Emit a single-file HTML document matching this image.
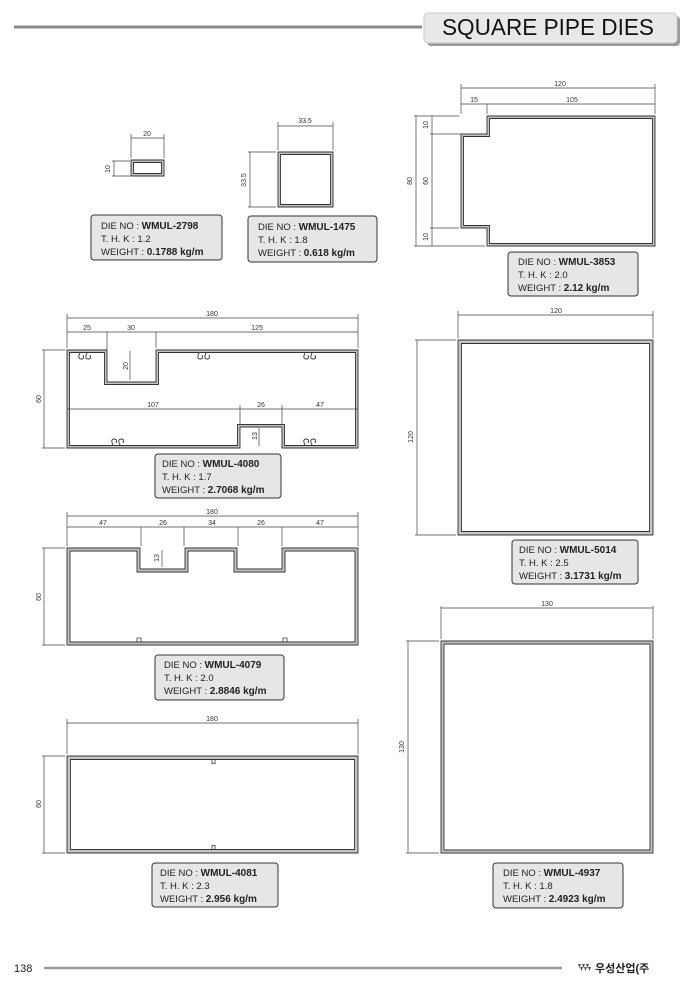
<!DOCTYPE html>
<html><head><meta charset="utf-8"><style>
html,body{margin:0;padding:0;background:#fff;}
svg{display:block;font-family:"Liberation Sans","Noto Sans CJK KR",sans-serif;}
.d{stroke:#444;stroke-width:0.7;fill:none}
.t{font-size:7px;fill:#333}
.p{fill:#c4c4c4;stroke:#333;stroke-width:0.9;fill-rule:evenodd}
.b{fill:#e6e6e6;stroke:#333;stroke-width:1}
.l{font-size:9.5px;fill:#222}
.l tspan.k{font-weight:bold;font-size:10px}
</style></head><body>
<svg width="690" height="986" viewBox="0 0 690 986" xmlns="http://www.w3.org/2000/svg">
<!-- header -->
<line x1="14" y1="27" x2="422" y2="27" stroke="#8a8a8a" stroke-width="3"/>
<rect x="427" y="16" width="253" height="30" rx="4" fill="#9a9a9a"/>
<rect x="424" y="13" width="253" height="30" rx="4" fill="#e8e8e8" stroke="#ccc"/>
<text x="548" y="35" font-size="23" text-anchor="middle" fill="#111" textLength="212" lengthAdjust="spacingAndGlyphs">SQUARE PIPE DIES</text>

<!-- 2798 -->
<path class="p" d="M131 160H164V176H131Z M133.5 162.5H161.5V173.5H133.5Z"/>
<path class="d" d="M131 158V134M164 158V134M131 138H164M130 161H112M130 176H112M114 161V176"/>
<text class="t" x="147" y="136" text-anchor="middle">20</text>
<text class="t" transform="translate(110,169) rotate(-90)" text-anchor="middle">10</text>
<rect class="b" x="91" y="215" width="131" height="45" rx="3"/>
<text class="l" x="101" y="229">DIE NO : <tspan class="k">WMUL-2798</tspan></text>
<text class="l" x="101" y="242">T. H. K :  1.2</text>
<text class="l" x="101" y="255">WEIGHT : <tspan class="k">0.1788 kg/m</tspan></text>

<!-- 1475 -->
<path class="p" d="M278 152H333V207H278Z M280.5 154.5H330.5V204.5H280.5Z"/>
<path class="d" d="M278 150V122M333 150V122M278 126H333M276 152H248M276 207H248M250 152V207"/>
<text class="t" x="305" y="123" text-anchor="middle">33.5</text>
<text class="t" transform="translate(246,180) rotate(-90)" text-anchor="middle">33.5</text>
<rect class="b" x="248" y="216" width="129" height="46" rx="3"/>
<text class="l" x="258" y="230">DIE NO : <tspan class="k">WMUL-1475</tspan></text>
<text class="l" x="258" y="243">T. H. K :  1.8</text>
<text class="l" x="258" y="256">WEIGHT : <tspan class="k">0.618 kg/m</tspan></text>

<!-- 3853 -->
<path class="p" d="M487 116H655V246H487V228H461V134H487Z M489.5 118.5H652.5V243.5H489.5V225.5H463.5V136.5H489.5Z"/>
<path class="d" d="M461 114V84M655 114V84M461 88H655M461 104H655M487 104V114M459 116H414M485 134H430M459 228H430M485 246H414M416 116V246M432 116V246"/>
<text class="t" x="560" y="86" text-anchor="middle">120</text>
<text class="t" x="474" y="102" text-anchor="middle">15</text>
<text class="t" x="572" y="102" text-anchor="middle">105</text>
<text class="t" transform="translate(412,181) rotate(-90)" text-anchor="middle">80</text>
<text class="t" transform="translate(428,125) rotate(-90)" text-anchor="middle">10</text>
<text class="t" transform="translate(428,181) rotate(-90)" text-anchor="middle">60</text>
<text class="t" transform="translate(428,237) rotate(-90)" text-anchor="middle">10</text>
<rect class="b" x="508" y="252" width="130" height="44" rx="3"/>
<text class="l" x="518" y="265">DIE NO : <tspan class="k">WMUL-3853</tspan></text>
<text class="l" x="518" y="278">T. H. K :  2.0</text>
<text class="l" x="518" y="291">WEIGHT : <tspan class="k">2.12 kg/m</tspan></text>

<!-- 4080 -->
<path class="p" d="M67 350H107V382H156V350H358V448H282V427H240V448H67Z M69.5 352.5H104.5V384.5H158.5V352.5H355.5V445.5H284.5V424.5H237.5V445.5H69.5Z"/>
<path class="d" d="M67 348V314M358 348V314M67 318H358M67 332H358M107 332V380M156 332V348M130 351V380M67 409H358M240 405V425M282 405V425M259 428V446M65 350H42M65 448H42M44 350V448"/>
<g stroke="#333" stroke-width="0.9" fill="none">
<path d="M80 353q-3 6 1.5 6q3 0 1.5-4M87 353q-3 6 1.5 6q3 0 1.5-4"/>
<path d="M199 353q-3 6 1.5 6q3 0 1.5-4M206 353q-3 6 1.5 6q3 0 1.5-4"/>
<path d="M305 353q-3 6 1.5 6q3 0 1.5-4M312 353q-3 6 1.5 6q3 0 1.5-4"/>
<path d="M113 445q-3 -6 1.5 -6q3 0 1.5 4M120 445q-3 -6 1.5 -6q3 0 1.5 4"/>
<path d="M305 445q-3 -6 1.5 -6q3 0 1.5 4M312 445q-3 -6 1.5 -6q3 0 1.5 4"/>
</g>
<text class="t" x="212" y="316" text-anchor="middle">180</text>
<text class="t" x="87" y="330" text-anchor="middle">25</text>
<text class="t" x="131" y="330" text-anchor="middle">30</text>
<text class="t" x="257" y="330" text-anchor="middle">125</text>
<text class="t" x="153" y="407" text-anchor="middle">107</text>
<text class="t" x="261" y="407" text-anchor="middle">26</text>
<text class="t" x="320" y="407" text-anchor="middle">47</text>
<text class="t" transform="translate(128,366) rotate(-90)" text-anchor="middle">20</text>
<text class="t" transform="translate(257,436) rotate(-90)" text-anchor="middle">13</text>
<text class="t" transform="translate(41,399) rotate(-90)" text-anchor="middle">60</text>
<rect class="b" x="155" y="454" width="126" height="44" rx="3"/>
<text class="l" x="162" y="467">DIE NO : <tspan class="k">WMUL-4080</tspan></text>
<text class="l" x="162" y="480">T. H. K :  1.7</text>
<text class="l" x="162" y="493">WEIGHT : <tspan class="k">2.7068 kg/m</tspan></text>

<!-- 4079 -->
<path class="p" d="M67 548H140V569H185V548H237V569H282V548H358V645H67Z M70 551H137V572H188V551H234V572H285V551H355V642H70Z"/>
<path class="d" d="M67 546V512M358 546V512M67 516H358M67 527H358M141 527V546M184 527V546M238 527V546M282 527V546M162 550V567M65 548H42M65 645H42M44 548V645"/>
<path d="M137 642V638h4v4M283 642V638h4v4" stroke="#333" stroke-width="0.8" fill="none"/>
<text class="t" x="212" y="514" text-anchor="middle">180</text>
<text class="t" x="103" y="525" text-anchor="middle">47</text>
<text class="t" x="163" y="525" text-anchor="middle">26</text>
<text class="t" x="212" y="525" text-anchor="middle">34</text>
<text class="t" x="261" y="525" text-anchor="middle">26</text>
<text class="t" x="320" y="525" text-anchor="middle">47</text>
<text class="t" transform="translate(159,558) rotate(-90)" text-anchor="middle">13</text>
<text class="t" transform="translate(41,597) rotate(-90)" text-anchor="middle">60</text>
<rect class="b" x="155" y="655" width="129" height="45" rx="3"/>
<text class="l" x="164" y="668">DIE NO : <tspan class="k">WMUL-4079</tspan></text>
<text class="l" x="164" y="681">T. H. K :  2.0</text>
<text class="l" x="164" y="694">WEIGHT : <tspan class="k">2.8846 kg/m</tspan></text>

<!-- 4081 -->
<path class="p" d="M67 756H358V853H67Z M70.5 759.5H354.5V849.5H70.5Z"/>
<path d="M212 759.5v4h3v-4M212 849.5v-4h3v4" stroke="#333" stroke-width="0.8" fill="none"/>
<path class="d" d="M67 754V719M358 754V719M67 723H358M65 756H42M65 853H42M44 756V853"/>
<text class="t" x="212" y="721" text-anchor="middle">180</text>
<text class="t" transform="translate(41,804) rotate(-90)" text-anchor="middle">60</text>
<rect class="b" x="152" y="863" width="126" height="44" rx="3"/>
<text class="l" x="160" y="876">DIE NO : <tspan class="k">WMUL-4081</tspan></text>
<text class="l" x="160" y="889">T. H. K :  2.3</text>
<text class="l" x="160" y="902">WEIGHT : <tspan class="k">2.956 kg/m</tspan></text>

<!-- 5014 -->
<path class="p" d="M458 340H653V535H458Z M461.5 343.5H649.5V531.5H461.5Z"/>
<path class="d" d="M458 338V311M653 338V311M458 315H653M456 340H415M456 535H415M417 340V535"/>
<text class="t" x="556" y="313" text-anchor="middle">120</text>
<text class="t" transform="translate(413,437) rotate(-90)" text-anchor="middle">120</text>
<rect class="b" x="512" y="540" width="126" height="44" rx="3"/>
<text class="l" x="519" y="553">DIE NO : <tspan class="k">WMUL-5014</tspan></text>
<text class="l" x="519" y="566">T. H. K :  2.5</text>
<text class="l" x="519" y="579">WEIGHT : <tspan class="k">3.1731 kg/m</tspan></text>

<!-- 4937 -->
<path class="p" d="M441 641H653V853H441Z M444 644H650V850H444Z"/>
<path class="d" d="M441 639V606M653 639V606M441 608H653M439 641H406M439 853H406M408 641V853"/>
<text class="t" x="547" y="606" text-anchor="middle">130</text>
<text class="t" transform="translate(404,747) rotate(-90)" text-anchor="middle">130</text>
<rect class="b" x="493" y="863" width="130" height="45" rx="3"/>
<text class="l" x="503" y="876">DIE NO : <tspan class="k">WMUL-4937</tspan></text>
<text class="l" x="503" y="889">T. H. K :  1.8</text>
<text class="l" x="503" y="902">WEIGHT : <tspan class="k">2.4923 kg/m</tspan></text>

<!-- footer -->
<text x="14" y="972" font-size="11" fill="#222">138</text>
<line x1="44" y1="968" x2="562" y2="968" stroke="#999" stroke-width="2.5"/>
<g fill="#555"><path d="M578 964l3 0 -1.5 4z M582 964l3 0 -1.5 4z M586 964l3 0 -1.5 4z M580 967l3 0 -1.5 4z M584 967l3 0 -1.5 4z M588 967l3 0 -1.5 4z"/></g>
<text x="595" y="972" font-size="11" font-weight="bold" fill="#222">우성산업(주</text>
</svg>
</body></html>
